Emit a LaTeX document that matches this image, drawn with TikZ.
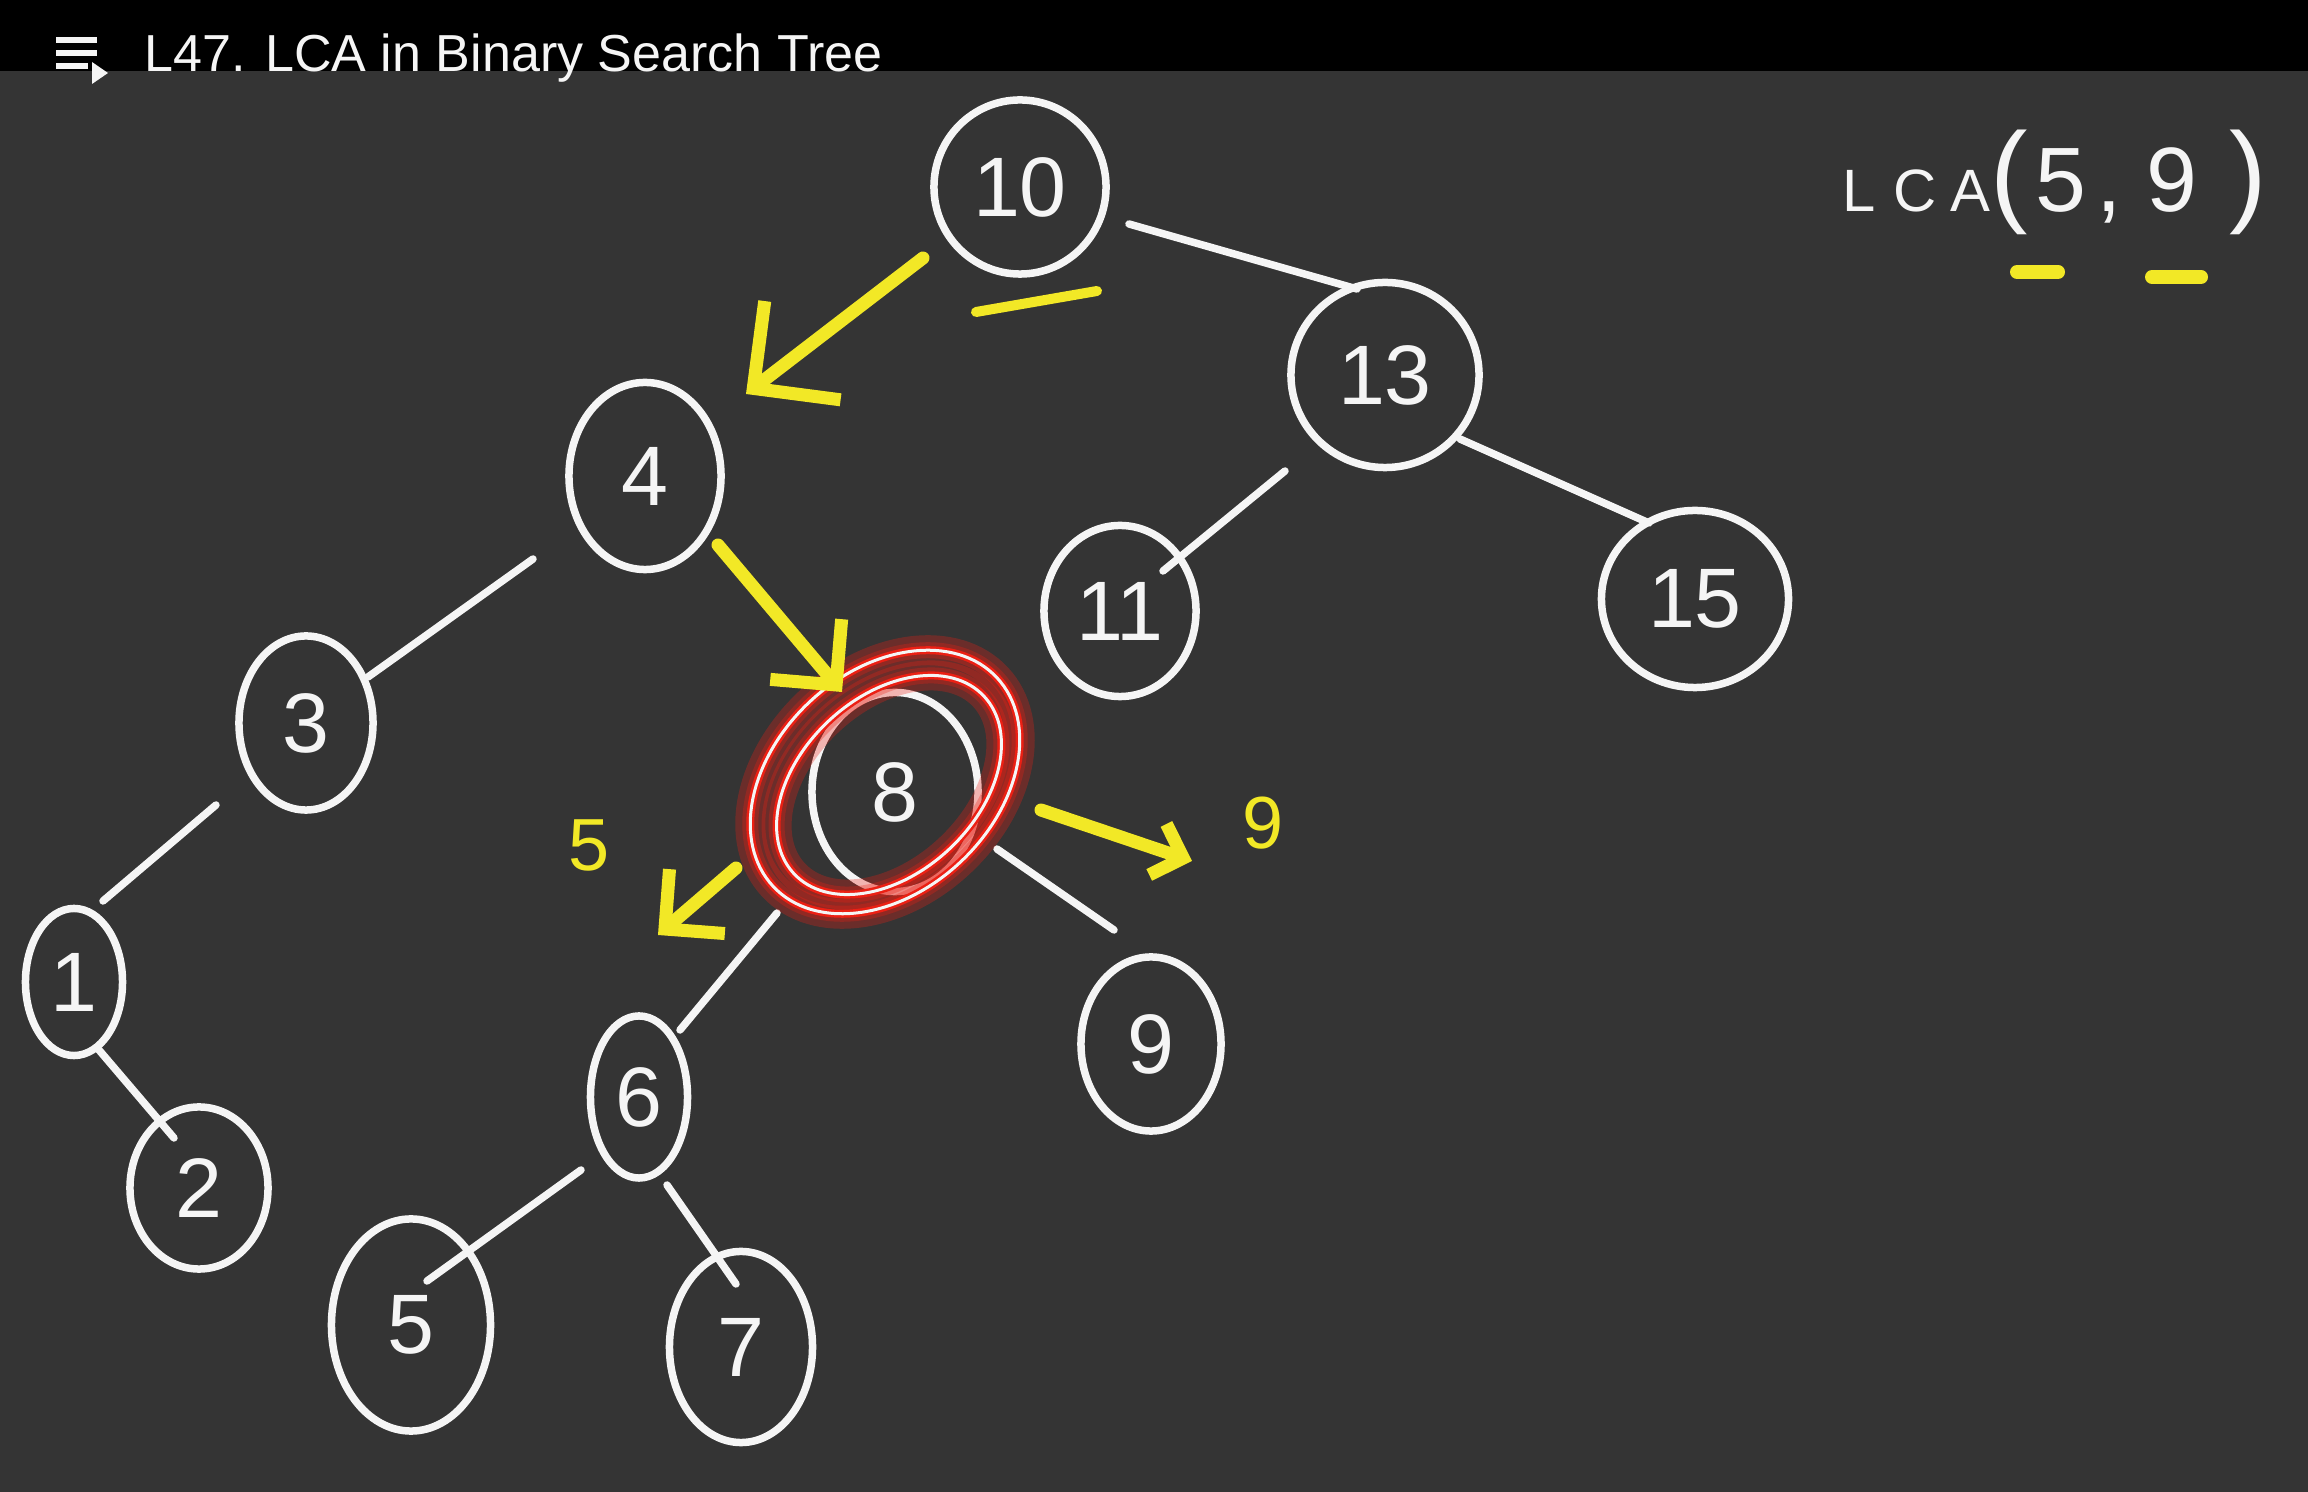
\documentclass[tikz,border=0pt]{standalone}
\usepackage{fontspec}
\setmainfont{Liberation Sans}
\usepackage{xcolor}
\definecolor{colBoard}{RGB}{52,52,52}
\definecolor{colChalk}{RGB}{245,245,245}
\definecolor{colHigh}{RGB}{242,232,38}
\definecolor{colGlow}{RGB}{235,32,20}
\usepackage{tikz}
\usetikzlibrary{arrows.meta, positioning, shapes.geometric, calc}
\tikzset{
	numnode/.style={draw=colChalk, ellipse, line width=0.075cm, inner sep=0pt, text=colChalk, font=\fontsize{24pt}{26pt}\selectfont},
	treeedge/.style={draw=colChalk, line width=0.075cm, line cap=round},
	hilitearr/.style={draw=colHigh, line width=0.13cm, line cap=round, line join=round, -{Straight Barb[angle=90:#1]}},
	hilitemark/.style={draw=colHigh, line width=0.14cm, line cap=round},
	hilitelabel/.style={text=colHigh, font=\fontsize{21pt}{23pt}\selectfont},
	ringglow/.style={draw=colGlow, line width=#1, opacity=0.3},
}

\begin{document}
\begin{tikzpicture}[x=0.01cm, y=-0.01cm]
	\useasboundingbox (0,0) rectangle (2308,1492);
	\fill[colBoard] (0,0) rectangle (2308,1492);
	\fill[black] (0,0) rectangle (2308,71);
	% playlist icon and title
	\foreach \yy/\xx in {40/97, 53/97, 66/88}
		\draw[colChalk, line width=0.06cm] (56,\yy) -- (\xx,\yy);
	\fill[colChalk] (92,62) -- (92,84) -- (108,73) -- cycle;
	\node[anchor=base west, inner sep=0pt, text=colChalk, font=\fontsize{14.8pt}{18pt}\selectfont] (title) at (144,72) {L47. LCA in Binary Search Tree};

	\node[numnode, minimum width=1.72cm, minimum height=1.74cm] (n10) at (1020,187) {10};
	\node[numnode, minimum width=1.88cm, minimum height=1.85cm] (n13) at (1385,375) {13};
	\node[numnode, minimum width=1.52cm, minimum height=1.87cm] (n4) at (645,476) {4};
	\node[numnode, minimum width=1.34cm, minimum height=1.74cm] (n3) at (306,723) {3};
	\node[numnode, minimum width=0.97cm, minimum height=1.47cm] (n1) at (74,982) {1};
	\node[numnode, minimum width=1.38cm, minimum height=1.62cm] (n2) at (199,1188) {2};
	\node[numnode, minimum width=1.52cm, minimum height=1.71cm] (n11) at (1120,611) {11};
	\node[numnode, minimum width=1.87cm, minimum height=1.77cm] (n15) at (1695,599) {15};
	\node[numnode, minimum width=1.66cm, minimum height=1.99cm] (n8) at (895,792) {8};
	\node[numnode, minimum width=0.97cm, minimum height=1.62cm] (n6) at (639,1097) {6};
	\node[numnode, minimum width=1.40cm, minimum height=1.74cm] (n9) at (1151,1044) {9};
	\node[numnode, minimum width=1.59cm, minimum height=2.12cm] (n5) at (411,1325) {5};
	\node[numnode, minimum width=1.43cm, minimum height=1.91cm] (n7) at (741,1347) {7};

	\draw[treeedge] ($(n10)+(109,37)$) -- ($(n13)+(-28,-86)$);
	\draw[treeedge] ($(n13)+(-100,96)$) -- ($(n11)+(43,-40)$);
	\draw[treeedge] ($(n13)+(75,64)$) -- ($(n15)+(-46,-76)$);
	\draw[treeedge] ($(n4)+(-112,83)$) -- ($(n3)+(62,-46)$);
	\draw[treeedge] ($(n3)+(-90,82)$) -- ($(n1)+(29,-81)$);
	\draw[treeedge] ($(n1)+(25,68)$) -- ($(n2)+(-25,-50)$);
	\draw[treeedge] ($(n8)+(-118,121)$) -- ($(n6)+(41,-67)$);
	\draw[treeedge] ($(n8)+(102,57)$) -- ($(n9)+(-37,-114)$);
	\draw[treeedge] ($(n6)+(-58,73)$) -- ($(n5)+(16,-44)$);
	\draw[treeedge] ($(n6)+(28,88)$) -- ($(n7)+(-5,-63)$);

	% red rings round 8
	\foreach \rx/\ry/\cx/\cy in {153/110/885/782, 130/88/889/785} {
		\draw[ringglow=0.30cm, rotate around={43:(\cx,\cy)}] (\cx,\cy) ellipse [x radius=\rx, y radius=\ry];
		\draw[ringglow=0.16cm, rotate around={43:(\cx,\cy)}] (\cx,\cy) ellipse [x radius=\rx, y radius=\ry];
		\draw[colGlow, line width=0.08cm, rotate around={43:(\cx,\cy)}] (\cx,\cy) ellipse [x radius=\rx, y radius=\ry];
		\draw[colChalk, line width=0.03cm, rotate around={43:(\cx,\cy)}] (\cx,\cy) ellipse [x radius=\rx, y radius=\ry];
	}

	\coordinate (tip5) at (658,935);
	\coordinate (tip9) at (1192,861);
	\draw[hilitearr=0.88cm] ($(n10)+(-97,71)$) -- ($(n4)+(101,-82)$);
	\draw[hilitearr=0.66cm] ($(n4)+(73,69)$) -- ($(n8)+(-53,-100)$);
	\draw[hilitearr=0.6cm] ($(n8)+(-159,76)$) -- (tip5);
	\draw[hilitearr=0.38cm] ($(n8)+(146,18)$) -- (tip9);
	\node[hilitelabel] (lab5) at (589,845) {5};
	\node[hilitelabel] (lab9) at (1263,823) {9};
	\draw[hilitemark, line width=0.1cm] (976,312) -- (1097,291);

	\node[anchor=base west, inner sep=0pt, text=colChalk, font=\fontsize{26pt}{30pt}\selectfont] (lca) at (1842,212) {{\fontsize{17pt}{18pt}\selectfont L\hspace{5pt}C\hspace{4pt}A}{\fontsize{32pt}{34pt}\selectfont(}\hspace{2pt}5\hspace{3pt},\hspace{7pt}9\hspace{9pt}{\fontsize{32pt}{34pt}\selectfont)}};
	\draw[hilitemark] (2017,272) -- (2058,272);
	\draw[hilitemark] (2152,277) -- (2201,277);
\end{tikzpicture}
\end{document}
